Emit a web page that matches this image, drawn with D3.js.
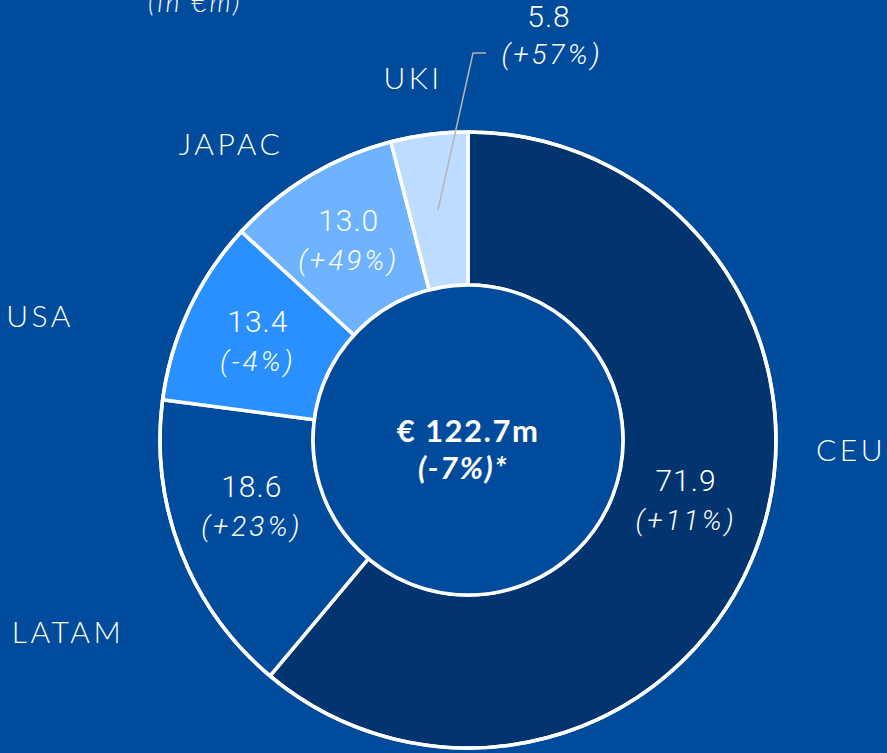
<!DOCTYPE html>
<html>
<head>
<meta charset="utf-8">
<script src="https://cdn.jsdelivr.net/npm/d3@7"></script>
<style>
  html, body { margin: 0; padding: 0; background: #004b9b; }
  svg { display: block; }
  .region { fill: #fff; font-family: "Lato", sans-serif; font-weight: 300; font-size: 30px; letter-spacing: 3.5px; }
  .val { fill: #fff; font-family: "Roboto", sans-serif; font-weight: 300; font-size: 30px; letter-spacing: 1px; }
  .pct { fill: #fff; font-family: "Roboto", sans-serif; font-weight: 300; font-style: italic; font-size: 28px; letter-spacing: 3px; }
</style>
</head>
<body>
<div id="chart"></div>
<script>
// regions clockwise from 12 o'clock
var regions = ["CEU", "LATAM", "USA", "JAPAC", "UKI"];
var revenue = [71.9, 18.6, 13.4, 13.0, 5.8];
var growth = ["(+11%)", "(+23%)", "(-4%)", "(+49%)", "(+57%)"];
// the slices in the source are not drawn to the printed values, these are the drawn arcs (degrees)
var drawnShare = [220, 57.5, 35.1, 32.9, 14.5];
var colors = ["#023470", "#004b9b", "#2a8fff", "#6db3ff", "#bddcff"];
var totalLabel = "€ 122.7m";
var totalGrowth = "(-7%)*";

var width = 887, height = 753;
var cx = 468, cy = 440;
var outerR = 308, innerR = 155;

var svg = d3.select("#chart").append("svg")
    .attr("width", width)
    .attr("height", height);

// unit note, cut by the top edge like the original
svg.append("text")
    .attr("x", 195)
    .attr("y", 12)
    .attr("text-anchor", "middle")
    .style("fill", "#fff")
    .style("font-family", "Lato, sans-serif")
    .style("font-weight", 300)
    .style("font-style", "italic")
    .style("font-size", "27px")
    .style("letter-spacing", "2.5px")
    .text("(in €m)");

var g = svg.append("g").attr("transform", "translate(" + cx + "," + cy + ")");

var slices = regions.map(function(r, i) {
    return {region: r, value: revenue[i], growth: growth[i], share: drawnShare[i], color: colors[i]};
});

var pie = d3.pie()
    .sort(null)
    .value(function(d) { return d.share; });

var arc = d3.arc().innerRadius(innerR).outerRadius(outerR);
var labelArc = d3.arc().innerRadius(232).outerRadius(232);

var arcs = pie(slices);

g.selectAll("path.slice")
    .data(arcs).enter()
    .append("path")
    .attr("class", "slice")
    .attr("d", arc)
    .attr("fill", function(d) { return d.data.color; })
    .attr("stroke", "#fff")
    .attr("stroke-width", 3.5)
    .attr("stroke-linejoin", "miter");

// outer and inner rings
g.append("circle").attr("r", outerR).attr("fill", "none").attr("stroke", "#fff").attr("stroke-width", 3.5);
g.append("circle").attr("r", innerR).attr("fill", "#004b9b").attr("stroke", "#fff").attr("stroke-width", 3.5);

// values inside the slices (UKI is too thin, it goes outside)
var inside = arcs.filter(function(d) { return d.data.region !== "UKI"; });
var lbl = g.selectAll("g.lbl")
    .data(inside).enter()
    .append("g")
    .attr("class", "lbl")
    .attr("transform", function(d) {
        var c = labelArc.centroid(d);
        if (d.data.region === "LATAM") c[1] -= 17;
        if (d.data.region === "CEU") c[1] -= 18;
        return "translate(" + c[0] + "," + c[1] + ")";
    });
lbl.append("text")
    .attr("class", "val")
    .attr("text-anchor", "middle")
    .attr("y", -10)
    .text(function(d) { return d.data.value.toFixed(1); });
lbl.append("text")
    .attr("class", "pct")
    .attr("text-anchor", "middle")
    .attr("y", 29)
    .text(function(d) { return d.data.growth; });

// UKI call-out
var uki = arcs[regions.indexOf("UKI")];
svg.append("polyline")
    .attr("points", [[438, 210], [473, 53], [486, 53]].map(function(p) { return p.join(","); }).join(" "))
    .attr("fill", "none")
    .attr("stroke", "#b4b4b4")
    .attr("stroke-width", 1.5);
svg.append("text")
    .attr("class", "val")
    .attr("text-anchor", "middle")
    .attr("x", 549)
    .attr("y", 27)
    .text(uki.data.value.toFixed(1));
svg.append("text")
    .attr("class", "pct")
    .attr("text-anchor", "middle")
    .attr("x", 552)
    .attr("y", 64)
    .text(uki.data.growth);

// region names round the ring
var namePos = {CEU: [851, 461], LATAM: [68, 643], USA: [40, 327], JAPAC: [231, 155], UKI: [413, 89]};
svg.selectAll("text.region")
    .data(slices).enter()
    .append("text")
    .attr("class", "region")
    .attr("text-anchor", "middle")
    .attr("x", function(d) { return namePos[d.region][0]; })
    .attr("y", function(d) { return namePos[d.region][1]; })
    .text(function(d) { return d.region; });

// total in the hole
g.append("text")
    .attr("text-anchor", "middle")
    .attr("y", 2)
    .style("fill", "#fff")
    .style("font-family", "Lato, sans-serif")
    .style("font-weight", 700)
    .style("font-size", "31px")
    .style("letter-spacing", "1.5px")
    .text(totalLabel);
g.append("text")
    .attr("text-anchor", "middle")
    .attr("x", -5)
    .attr("y", 39)
    .style("fill", "#fff")
    .style("font-family", "Lato, sans-serif")
    .style("font-weight", 700)
    .style("font-style", "italic")
    .style("font-size", "31px")
    .style("letter-spacing", "1.5px")
    .text(totalGrowth);
</script>
</body>
</html>
